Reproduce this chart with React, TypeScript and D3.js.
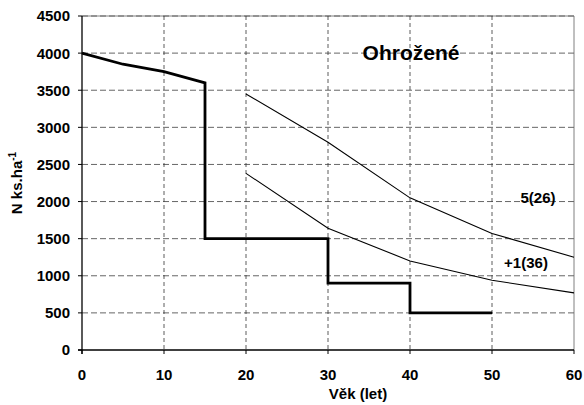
import React from 'react';
import * as d3 from 'd3';

// Age (years) and stem counts N (ks/ha)
const stepAges = [0, 5, 10, 15, 15, 30, 30, 40, 40, 50];
const stepValues = [4000, 3850, 3750, 3600, 1500, 1500, 900, 900, 500, 500];

const curveAges = [20, 30, 40, 50, 60];
const upperValues = [3450, 2800, 2050, 1570, 1250];
const lowerValues = [2380, 1640, 1200, 940, 770];

const xTicks = [0, 10, 20, 30, 40, 50, 60];
const yTicks = [0, 500, 1000, 1500, 2000, 2500, 3000, 3500, 4000, 4500];

const width = 584;
const height = 405;
const margin = { top: 16, right: 10, bottom: 55, left: 82 };

const App: React.FC = () => {
  const x = d3.scaleLinear().domain([0, 60]).range([margin.left, width - margin.right]);
  const y = d3.scaleLinear().domain([0, 4500]).range([height - margin.bottom, margin.top]);

  const line = d3.line<[number, number]>().x(d => x(d[0])).y(d => y(d[1]));
  const stepPts = stepAges.map((a, i) => [a, stepValues[i]] as [number, number]);
  const upperPts = curveAges.map((a, i) => [a, upperValues[i]] as [number, number]);
  const lowerPts = curveAges.map((a, i) => [a, lowerValues[i]] as [number, number]);

  const font = 'Liberation Sans, Arial, sans-serif';
  const x0 = x(0), x1 = x(60), y0 = y(0), y1 = y(4500);

  return (
    <svg width={width} height={height} style={{ position: 'absolute', left: 0, top: 0 }}
      fontFamily={font}>
      <rect width={width} height={height} fill="#fff" />
      {/* plot border */}
      <line x1={x0} x2={x1} y1={y1} y2={y1} stroke="#808080" strokeWidth={1} />
      <line x1={x1} x2={x1} y1={y1} y2={y0} stroke="#808080" strokeWidth={1} />
      {/* grid */}
      {yTicks.filter(t => t > 0).map(t => (
        <line key={'gy' + t} x1={x0} x2={x1} y1={y(t)} y2={y(t)}
          stroke="#666" strokeWidth={1} strokeDasharray="6,3" />
      ))}
      {xTicks.filter(t => t > 0 && t < 60).map(t => (
        <line key={'gx' + t} x1={x(t)} x2={x(t)} y1={y1} y2={y0}
          stroke="#333" strokeWidth={0.8} strokeDasharray="4,3" />
      ))}
      {/* axes */}
      <line x1={x0} x2={x0} y1={y1} y2={y0 + 4} stroke="#000" strokeWidth={1.3} />
      <line x1={x0 - 4} x2={x1} y1={y0} y2={y0} stroke="#000" strokeWidth={1.3} />
      {yTicks.map(t => (
        <g key={'ty' + t}>
          <line x1={x0 - 4} x2={x0} y1={y(t)} y2={y(t)} stroke="#000" />
          <text x={x0 - 12} y={y(t)} dy="0.36em" textAnchor="end" fontSize={15} fontWeight="bold">{t}</text>
        </g>
      ))}
      {xTicks.map(t => (
        <g key={'tx' + t}>
          <line x1={x(t)} x2={x(t)} y1={y0} y2={y0 + 4} stroke="#000" />
          <text x={x(t)} y={y0 + 30} textAnchor="middle" fontSize={15} fontWeight="bold">{t}</text>
        </g>
      ))}
      {/* series */}
      <path d={line(upperPts) || ''} fill="none" stroke="#000" strokeWidth={1.1} />
      <path d={line(lowerPts) || ''} fill="none" stroke="#000" strokeWidth={1.1} />
      <path d={line(stepPts) || ''} fill="none" stroke="#000" strokeWidth={2.8} />
      {/* labels */}
      <text x={411} y={60} textAnchor="middle" fontSize={21} fontWeight="bold">Ohrožené</text>
      <text x={538} y={203} textAnchor="middle" fontSize={15} fontWeight="bold">5(26)</text>
      <text x={526} y={268} textAnchor="middle" fontSize={15} fontWeight="bold">+1(36)</text>
      <text x={358} y={399} textAnchor="middle" fontSize={15} fontWeight="bold">Věk (let)</text>
      <text transform={`translate(22,${(y0 + y1) / 2}) rotate(-90)`} textAnchor="middle"
        fontSize={15} fontWeight="bold">
        N ks.ha<tspan dy={-6} fontSize={10}>-1</tspan>
      </text>
    </svg>
  );
};

export default App;
